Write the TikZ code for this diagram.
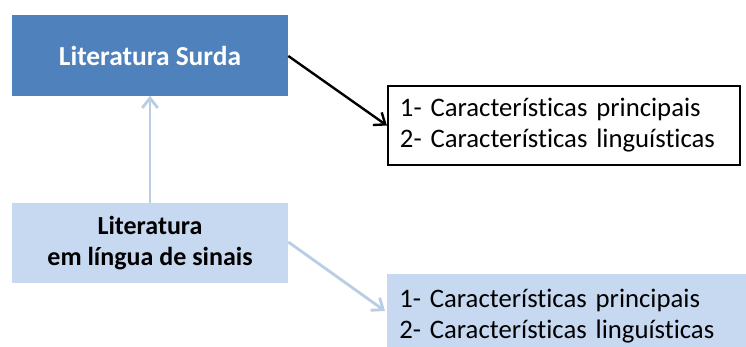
\documentclass[tikz,border=0pt]{standalone}
\usepackage{fontspec}
\setmainfont{Carlito}[Ligatures=NoCommon]
\usetikzlibrary{arrows.meta}
\definecolor{darkblue}{HTML}{4F81BD}
\definecolor{paleblue}{HTML}{C6D9F1}
\definecolor{arrowblue}{HTML}{B9CDE5}
\tikzset{
  titlebox/.style={fill=darkblue, text=white, font=\bfseries\fontsize{19.5}{22}\selectfont,
    minimum width=6.9cm, minimum height=2.0cm, inner sep=0pt, align=center},
  subbox/.style={fill=paleblue, font=\bfseries\fontsize{18.5}{22}\selectfont,
    minimum width=6.9cm, minimum height=2.0cm, inner sep=0pt, align=center},
  listbox/.style={font=\fontsize{19}{22}\selectfont, text width=8.2cm, align=left,
    inner xsep=0.3cm, minimum height=1.975cm},
}
\begin{document}
\begin{tikzpicture}[x=0.025cm, y=-0.025cm]
  \useasboundingbox (0,0) rectangle (746,347);
  \clip (0,0) rectangle (746,347);
  \node[titlebox] (surda) at (150,55.5) {Literatura Surda};
  \node[subbox] (sinais) at (150,243) {Literatura\\em língua de sinais};
  \node[listbox, draw=black, line width=1.5pt] (caracA) at (564,125.5)
    {1- Características principais\\2- Características linguísticas};
  \node[listbox, fill=paleblue, text width=8.8cm, minimum height=2.1cm, anchor=north west] (caracB) at (387,274)
    {1- Características principais\\2- Características linguísticas};
  \draw[-{Straight Barb[length=7pt,width=11pt]}, line width=2pt, arrowblue]
    (sinais.north) -- (surda.south);
  \draw[-{Straight Barb[length=7pt,width=11pt]}, line width=1.7pt]
    (surda.east |- 0,56) -- (caracA.west);
  \draw[-{Straight Barb[length=7pt,width=11pt]}, line width=2pt, arrowblue]
    (sinais.east |- 0,242) -- (385,311);
\end{tikzpicture}
\end{document}
